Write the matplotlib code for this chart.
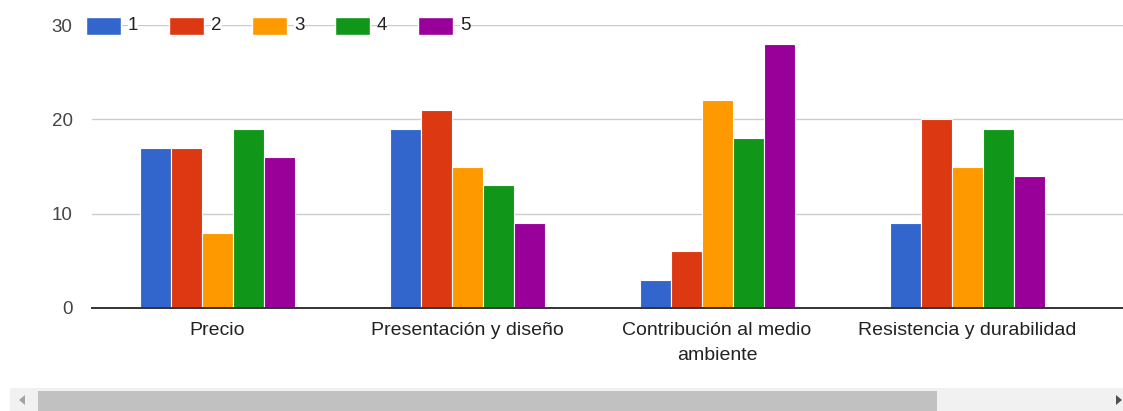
import matplotlib

matplotlib.use("Agg")
import matplotlib.pyplot as plt
from matplotlib.patches import Rectangle, Polygon
import numpy as np

CATEGORIES = ["Precio", "Presentación y diseño", "Contribución al medio\nambiente",
              "Resistencia y durabilidad"]
SERIES = ["1", "2", "3", "4", "5"]
VALUES = {
    "1": [17, 19, 3, 9],
    "2": [17, 21, 6, 20],
    "3": [8, 15, 22, 15],
    "4": [19, 13, 18, 19],
    "5": [16, 9, 28, 14],
}
COLORS = ["#3366cc", "#dc3912", "#ff9900", "#109618", "#990099"]
Y_TICKS = [0, 10, 20, 30]

W, H = 1123, 411
fig = plt.figure(figsize=(W / 100, H / 100), dpi=100)
plt.rcParams["font.family"] = ["Arial", "Liberation Sans", "DejaVu Sans"]

# axes spans from x=92 to right edge, y=25 (30) to y=308 (0)
ax = fig.add_axes([92 / W, 1 - 308 / H, 1 - 92 / W, (308 - 25) / H])
x = np.arange(len(CATEGORIES))
bw = 0.124
for i, (name, color) in enumerate(zip(SERIES, COLORS)):
    offs = (i - 2) * bw
    ax.bar(x + offs, VALUES[name], width=bw, color=color, edgecolor="white",
           linewidth=0.8, zorder=3)

ax.set_xlim(-0.5, (W - 92) / 250 - 0.5)
ax.set_ylim(0, 30)
ax.set_yticks(Y_TICKS)
ax.set_yticklabels([str(v) for v in Y_TICKS], fontsize=13.5, color="#444444")
ax.set_xticks(x)
ax.set_xticklabels(CATEGORIES, fontsize=14, color="#222222", linespacing=1.65)
ax.tick_params(axis="both", length=0)
ax.tick_params(axis="y", pad=14)
ax.tick_params(axis="x", pad=10)
for lab in ax.get_xticklabels():
    lab.set_verticalalignment("top")
for s in ["top", "right", "left"]:
    ax.spines[s].set_visible(False)
ax.spines["bottom"].set_color("#333333")
ax.spines["bottom"].set_linewidth(1.4)
ax.spines["bottom"].set_zorder(4)
ax.grid(axis="y", color="#cccccc", linewidth=1, zorder=0)
ax.set_axisbelow(True)

# legend drawn over the top gridline
ly = 1 - 26 / H
for i, (name, color) in enumerate(zip(SERIES, COLORS)):
    x0 = 86 + i * 83
    fig.patches.append(Rectangle((x0 / W, 1 - 35 / H), 35 / W, 18 / H, transform=fig.transFigure,
                                 facecolor=color, edgecolor="white", linewidth=1, zorder=5))
    fig.text((x0 + 42) / W, ly, name, fontsize=13.5, color="#222222", va="center", ha="left",
             zorder=6, bbox=dict(facecolor="white", edgecolor="none", pad=0.0))

# scrollbar at the bottom
fig.patches.append(Rectangle((10 / W, 0), (W - 10) / W, 23 / H, transform=fig.transFigure,
                             facecolor="#f1f1f1", edgecolor="none"))
fig.patches.append(Rectangle((38 / W, 0), (937 - 38) / W, 20 / H, transform=fig.transFigure,
                             facecolor="#c1c1c1", edgecolor="none"))
fig.patches.append(Polygon([[19 / W, 11 / H], [25 / W, 16 / H], [25 / W, 6 / H]],
                           closed=True, transform=fig.transFigure, facecolor="#a3a3a3",
                           edgecolor="none"))
fig.patches.append(Polygon([[1122 / W, 11 / H], [1116 / W, 16 / H], [1116 / W, 6 / H]],
                           closed=True, transform=fig.transFigure, facecolor="#505050",
                           edgecolor="none"))

fig.savefig("out.png", dpi=100)
